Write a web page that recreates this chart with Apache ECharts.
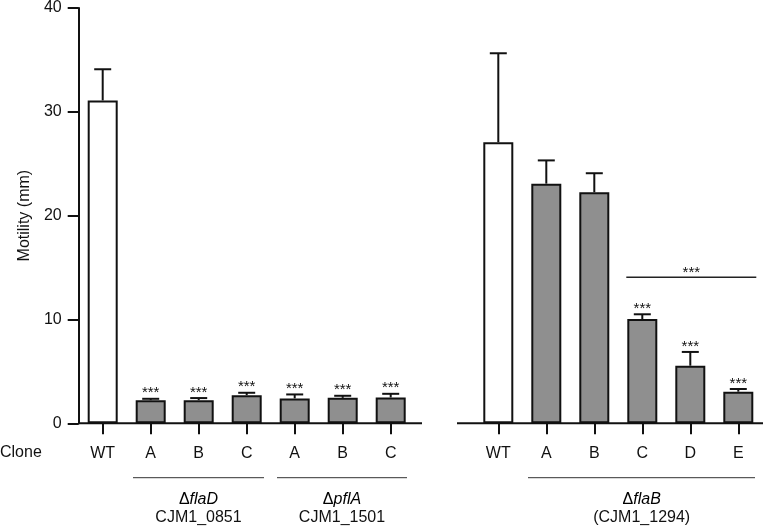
<!DOCTYPE html>
<html>
<head>
<meta charset="utf-8">
<script src="https://cdn.jsdelivr.net/npm/echarts@6/dist/echarts.min.js"></script>
<style>html,body{margin:0;padding:0;background:#fff}#c{width:764px;height:528px}</style>
</head>
<body>
<div id="c"></div>
<script>
// ---- data ----
const leftCats   = ['WT', 'flaD A', 'flaD B', 'flaD C', 'pflA A', 'pflA B', 'pflA C'];
const leftLabels = ['WT', 'A', 'B', 'C', 'A', 'B', 'C'];
const leftMeans  = [31.1, 2.23, 2.23, 2.71, 2.40, 2.45, 2.49];
const leftSD     = [3.0, 0.13, 0.20, 0.23, 0.38, 0.20, 0.35];
const leftSig    = ['', '***', '***', '***', '***', '***', '***'];

const rightCats   = ['WT', 'flaB A', 'flaB B', 'flaB C', 'flaB D', 'flaB E'];
const rightLabels = ['WT', 'A', 'B', 'C', 'D', 'E'];
const rightMeans  = [26.94, 22.97, 22.15, 10.0, 5.52, 3.03];
const rightSD     = [8.53, 2.23, 1.82, 0.45, 1.32, 0.26];
const rightSig    = ['', '', '', '***', '***', '***'];

const bracket = { from: 3, to: 5, value: 14, text: '***' };

const yTicks = [0, 10, 20, 30, 40];

// ---- chart ----
const FONT = 'Liberation Sans, Arial, Helvetica, sans-serif';
const FS = 16;
const STAR = '15px ' + FONT;
const chart = echarts.init(document.getElementById('c'));

function errRender(sigArr) {
  return function (params, api) {
    const i = api.value(0), m = api.value(1), t = api.value(2);
    const p0 = api.coord([i, m]);
    const p1 = api.coord([i, t]);
    const st = { stroke: '#111', lineWidth: 2 };
    const ch = [
      { type: 'line', shape: { x1: p0[0], y1: p0[1], x2: p1[0], y2: p1[1] }, style: st },
      { type: 'line', shape: { x1: p1[0] - 8.5, y1: p1[1], x2: p1[0] + 8.5, y2: p1[1] }, style: st }
    ];
    const s = sigArr[params.dataIndex];
    if (s) ch.push({ type: 'text', style: { text: s, x: p1[0], y: p1[1] + 2, align: 'center', verticalAlign: 'bottom', font: STAR, fill: '#111' } });
    return { type: 'group', children: ch };
  };
}

function bracketRender(params, api) {
  const a = api.coord([api.value(0), api.value(2)]);
  const b = api.coord([api.value(1), api.value(2)]);
  const half = api.size([1, 0])[0] / 2;
  const x1 = a[0] - 16, x2 = b[0] + half - 6;
  return { type: 'group', children: [
    { type: 'line', shape: { x1: x1, y1: a[1], x2: x2, y2: a[1] }, style: { stroke: '#222', lineWidth: 1.5 } },
    { type: 'text', style: { text: bracket.text, x: (x1 + x2) / 2, y: a[1] + 3, align: 'center', verticalAlign: 'bottom', font: STAR, fill: '#111' } }
  ] };
}

const barColor = p => (p.dataIndex === 0 ? '#ffffff' : '#8f8f8f');

const xAxisBase = {
  type: 'category',
  axisLine: { show: false },
  axisTick: { show: true, alignWithLabel: true, length: 11, lineStyle: { color: '#111', width: 2 } },
  axisLabel: { margin: 22, fontSize: FS, color: '#111', fontFamily: FONT }
};

const richLab = {
  n: { fontSize: FS, fontFamily: FONT, color: '#111' },
  i: { fontSize: FS, fontFamily: FONT, fontStyle: 'italic', color: '#111' }
};

const option = {
  animation: false,
  backgroundColor: '#fff',
  grid: [
    { left: 78.7, top: 6, width: 336, height: 417.3 },
    { left: 474.3, top: 6, width: 288, height: 417.3 }
  ],
  xAxis: [
    Object.assign({}, xAxisBase, { gridIndex: 0, data: leftCats, axisLabel: Object.assign({}, xAxisBase.axisLabel, { formatter: (v, i) => leftLabels[i] }) }),
    Object.assign({}, xAxisBase, { gridIndex: 1, data: rightCats, axisLabel: Object.assign({}, xAxisBase.axisLabel, { formatter: (v, i) => rightLabels[i] }) })
  ],
  yAxis: [
    {
      gridIndex: 0, type: 'value', min: yTicks[0], max: yTicks[yTicks.length - 1], interval: 10,
      name: 'Motility (mm)', nameLocation: 'middle', nameRotate: 90, nameGap: 46,
      nameTextStyle: { fontSize: FS, color: '#111', fontFamily: FONT },
      axisLine: { show: true, lineStyle: { color: '#111', width: 2 } },
      axisTick: { show: true, length: 11, lineStyle: { color: '#111', width: 2 } },
      axisLabel: { margin: 17, fontSize: FS, color: '#111', fontFamily: FONT },
      splitLine: { show: false }
    },
    { gridIndex: 1, type: 'value', min: 0, max: 40, interval: 10, show: false, splitLine: { show: false } }
  ],
  series: [
    { type: 'bar', xAxisIndex: 0, yAxisIndex: 0, data: leftMeans, barWidth: 30,
      itemStyle: { color: barColor, borderColor: '#111', borderWidth: 2 } },
    { type: 'bar', xAxisIndex: 1, yAxisIndex: 1, data: rightMeans, barWidth: 30,
      itemStyle: { color: barColor, borderColor: '#111', borderWidth: 2 } },
    { type: 'custom', xAxisIndex: 0, yAxisIndex: 0, z: 5, renderItem: errRender(leftSig),
      data: leftMeans.map((m, i) => [i, m, m + leftSD[i]]) },
    { type: 'custom', xAxisIndex: 1, yAxisIndex: 1, z: 5, renderItem: errRender(rightSig),
      data: rightMeans.map((m, i) => [i, m, m + rightSD[i]]) },
    { type: 'custom', xAxisIndex: 1, yAxisIndex: 1, z: 5, renderItem: bracketRender,
      data: [[bracket.from, bracket.to, bracket.value]] }
  ],
  graphic: [
    { type: 'line', shape: { x1: 78, y1: 423.3, x2: 422, y2: 423.3 }, style: { stroke: '#111', lineWidth: 2 } },
    { type: 'line', shape: { x1: 457, y1: 423.3, x2: 763, y2: 423.3 }, style: { stroke: '#111', lineWidth: 2 } },
    { type: 'text', x: 0, y: 453, style: { text: 'Clone', verticalAlign: 'middle', font: FS + 'px ' + FONT, fill: '#111' } },
    { type: 'line', shape: { x1: 133, y1: 477.7, x2: 264, y2: 477.7 }, style: { stroke: '#333', lineWidth: 1 } },
    { type: 'line', shape: { x1: 277, y1: 477.7, x2: 407, y2: 477.7 }, style: { stroke: '#333', lineWidth: 1 } },
    { type: 'line', shape: { x1: 528, y1: 477.7, x2: 755, y2: 477.7 }, style: { stroke: '#333', lineWidth: 1 } },
    { type: 'text', x: 198.5, y: 500, style: { text: '{n|Δ}{i|flaD}', align: 'center', verticalAlign: 'middle', rich: richLab } },
    { type: 'text', x: 198.5, y: 518, style: { text: 'CJM1_0851', align: 'center', verticalAlign: 'middle', font: FS + 'px ' + FONT, fill: '#111' } },
    { type: 'text', x: 342, y: 500, style: { text: '{n|Δ}{i|pflA}', align: 'center', verticalAlign: 'middle', rich: richLab } },
    { type: 'text', x: 342, y: 518, style: { text: 'CJM1_1501', align: 'center', verticalAlign: 'middle', font: FS + 'px ' + FONT, fill: '#111' } },
    { type: 'text', x: 641.7, y: 500, style: { text: '{n|Δ}{i|flaB}', align: 'center', verticalAlign: 'middle', rich: richLab } },
    { type: 'text', x: 641.7, y: 518, style: { text: '(CJM1_1294)', align: 'center', verticalAlign: 'middle', font: FS + 'px ' + FONT, fill: '#111' } }
  ]
};
chart.setOption(option);
</script>
</body>
</html>
